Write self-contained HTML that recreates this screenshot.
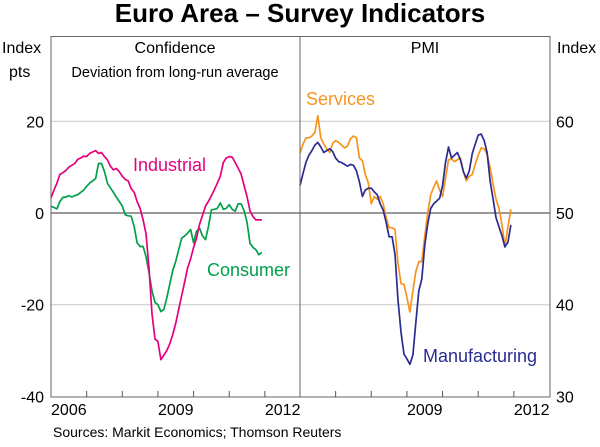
<!DOCTYPE html>
<html><head><meta charset="utf-8"><style>
body{margin:0;background:#fff;}
svg{display:block;font-family:"Liberation Sans",Arial,sans-serif;}
</style></head><body>
<svg id="chart" width="600" height="447">
<text x="300" y="22" text-anchor="middle" font-size="26" font-weight="bold" fill="#000">Euro Area – Survey Indicators</text>
<text x="2" y="53" font-size="16">Index</text>
<text x="9" y="77" font-size="16">pts</text>
<text x="557" y="53" font-size="16">Index</text>
<text x="175" y="53" font-size="16" text-anchor="middle">Confidence</text>
<text x="175" y="77" font-size="14.5" text-anchor="middle">Deviation from long-run average</text>
<text x="425" y="53" font-size="16" text-anchor="middle">PMI</text>
<g id="grid"></g>
<g id="series"></g>
<rect x="51" y="36.5" width="499" height="360.5" fill="none" stroke="#666" stroke-width="1"/>
<line x1="300" y1="36.5" x2="300" y2="397" stroke="#666"/>
<g id="axes"></g>
<text x="133" y="171" font-size="18" fill="#E6007E">Industrial</text>
<text x="207" y="276" font-size="18" fill="#00A04B">Consumer</text>
<text x="306" y="105" font-size="18" fill="#F7941D">Services</text>
<text x="423" y="362" font-size="18" fill="#2B2C8F">Manufacturing</text>
<text x="53" y="437" font-size="14">Sources: Markit Economics; Thomson Reuters</text>
</svg>
<script>
const leftTicks=[20,0,-20,-40];
const rightTicks=[60,50,40,30];
const yearLabels=["2006","2009","2012"];
const yearLabelIdx=[0,3,6];
const industrialStart=0;
const industrial=[3.3,5,6.5,8.4,8.8,9.3,10,10.4,10.8,11.7,12,12.4,12.3,13,13.3,13.6,13,13.2,12.3,11.6,10.2,9.4,9.7,9,8,7.3,7,5.3,4.5,2.5,1,-1.5,-4.5,-12,-22,-27.5,-28,-32,-31,-30,-28.5,-26.5,-24,-21,-18,-15,-12,-10,-7.5,-5.5,-2.5,-0.5,1.5,2.5,3.8,5.1,6.5,8,11,12,12.3,12.2,11,9.8,8.5,6,3.6,0.5,-0.8,-1.5,-1.5,-1.5];
const consumer=[1.5,1.2,0.9,2.5,3.4,3.5,3.8,3.5,3.8,4,4.5,5,5.8,6.5,7,7.5,10.8,10.8,9,6.5,5.5,4.5,3.5,2.5,1.5,-0.4,-0.6,-0.7,-3,-6.5,-7.3,-7.3,-9.5,-13,-17,-19.5,-20,-21.5,-21,-18.5,-15.5,-12.5,-10.5,-8,-5.5,-5,-4.4,-3.6,-6.5,-4,-3.3,-5,-5.8,-3,0.7,0.8,1,2.2,0.8,1,1.8,0.8,0.4,2,2,0.5,-2,-6.6,-7.5,-8,-9.1,-8.6];
const pmiStart=0;
const services=[56.5,57.5,58.2,58.2,58.4,58.8,60.6,58.2,57.5,57,56.6,57.6,57.9,57.7,57.4,57.1,57.3,58.1,58.4,58.2,56,55.7,54.2,53.3,51,51.8,51.5,51.8,51,49.5,48.4,48.4,48.2,44.5,42.3,42.2,40.8,39.2,41.5,43.6,44.7,44.7,47.5,50,52,52.8,53.5,52.5,51.8,53.8,55.8,55.9,55.6,55.8,56,54.5,53.5,54,54.2,55.3,56.3,57.1,57,56.4,55,53.1,51.5,50.5,48.7,46.3,48.5,50.4];
const manufacturing=[53,54.3,55.5,56.3,56.8,57.4,57.7,57.2,56.6,56.8,57,56.7,56,55.6,55.5,55.3,55.1,55.3,55.2,54.6,53.4,51.8,52.5,52.7,52.7,52.3,52,51,50.3,49,47.4,47.4,45.5,40.5,37,34.6,34.1,33.5,34.5,38,41.5,42.8,46.5,48.8,50.5,51,51.3,51.6,53,55.5,57.2,56,56.3,56.6,55.8,54.5,53.8,54.6,56.5,57.5,58.5,58.6,57.9,56.6,53.5,51.5,49.5,48.5,47.5,46.3,46.8,48.7];

const NS="http://www.w3.org/2000/svg";
const plotTop=36.5,plotBot=397,L0=51,R0=300,PW=249.5,nMonths=84;
function yLeft(v){return 213-v*4.585;}
function yRight(v){return 213-(v-50)*9.17;}
function xLeft(i){return L0+i*PW/nMonths;}
function xRight(i){return R0+i*PW/nMonths;}
const grid=document.getElementById('grid'),axes=document.getElementById('axes'),ser=document.getElementById('series');
function mk(tag,attrs,parent){const e=document.createElementNS(NS,tag);for(const k in attrs)e.setAttribute(k,attrs[k]);parent.appendChild(e);return e;}
leftTicks.forEach(v=>{
  const y=yLeft(v);
  if(v!==-40){const g=mk('line',{x1:L0,x2:550,y1:y,y2:y,stroke:v===0?'#333':'#c8c8c8','stroke-width':1},grid);
  
  }
  const t=mk('text',{x:44,y:y+6,'text-anchor':'end','font-size':16},axes);t.textContent=v;
  
  
});
rightTicks.forEach(v=>{
  const t=mk('text',{x:556,y:yRight(v)+6,'font-size':16},axes);t.textContent=v;
  
  
});
for(let k=1;k<7;k++){
  [L0,R0].forEach(x0=>{const x=x0+k*PW/7;const l=mk('line',{x1:x,x2:x,y1:plotBot,y2:plotBot-6,stroke:'#555'},axes);
  
  });
}
yearLabels.forEach((s,j)=>{
  [L0,R0].forEach((x0,p)=>{
    if(p===1&&j===0)return;
    const t=mk('text',{x:x0+(yearLabelIdx[j]+0.5)*PW/7,y:415,'text-anchor':'middle','font-size':16},axes);t.textContent=s;
    
    
  });
});
function line(data,start,xf,yf,color,name){
  const d=data.map((v,i)=>(i?'L':'M')+xf(start+i).toFixed(1)+','+yf(v).toFixed(1)).join('');
  const p=mk('path',{d:d,fill:'none',stroke:color,'stroke-width':1.7,'stroke-linejoin':'round'},ser);
  
  
}
line(consumer,industrialStart,xLeft,yLeft,'#00A04B','consumer-line');
line(industrial,industrialStart,xLeft,yLeft,'#E6007E','industrial-line');
line(services,pmiStart,xRight,yRight,'#F7941D','services-line');
line(manufacturing,pmiStart,xRight,yRight,'#2B2C8F','manufacturing-line');
</script>
</body></html>
